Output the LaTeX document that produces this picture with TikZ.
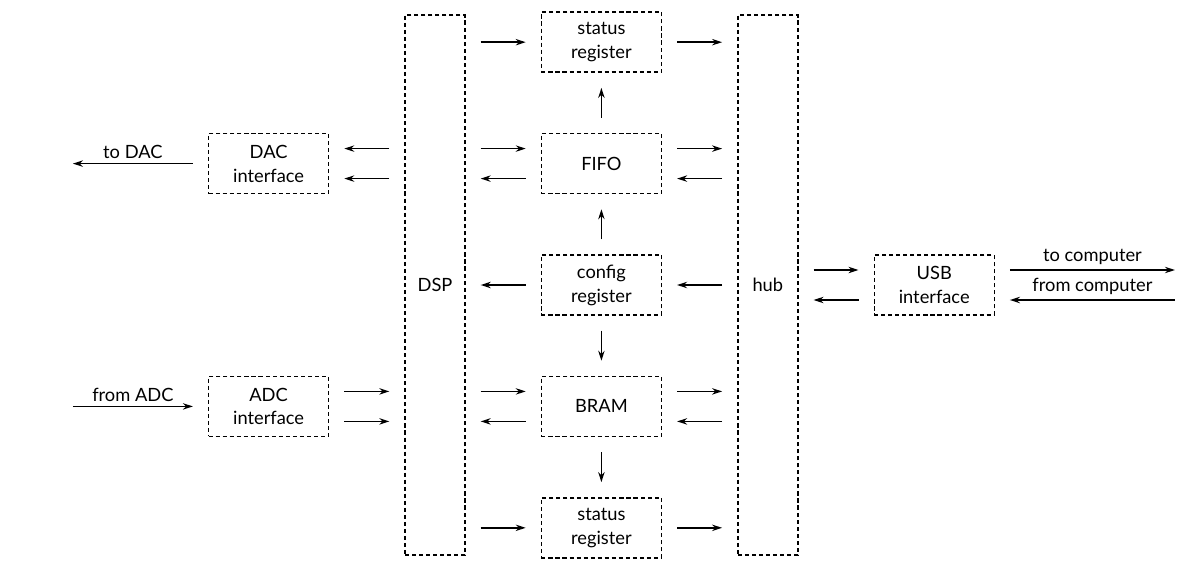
\documentclass[tikz,border=0pt]{standalone}
\usepackage{fontspec}
\setmainfont{Lato}
\usetikzlibrary{arrows.meta,positioning}

\begin{document}
\begin{tikzpicture}[
  node distance=15mm and 18.75mm,
  box/.style={draw, dash pattern=on 2.9pt off 2.1pt, line width=1pt, minimum width=30mm, minimum height=15mm, align=center, inner sep=0pt, font=\fontsize{13}{17}\selectfont},
  tall/.style={box, minimum width=15mm, minimum height=135mm},
  arr/.style={-{Stealth[length=2.5mm, width=1.6mm]}, line width=1pt},
  gap/.style={shorten <=3.75mm, shorten >=3.75mm},
  lbl/.style={above, font=\fontsize{13}{17}\selectfont, inner sep=3pt},
]
  \useasboundingbox (-108.75mm,-71.25mm) rectangle (191.25mm,71.25mm);

  % Blocks
  \node[tall] (dsp) {DSP};
  \node[box, right=of dsp] (cfg) {config\\register};
  \node[box, above=of cfg] (fifo) {FIFO};
  \node[box, above=of fifo] (stat1) {status\\register};
  \node[box, below=of cfg] (bram) {BRAM};
  \node[box, below=of bram] (stat2) {status\\register};
  \node[tall, right=of cfg] (hub) {hub};
  \node[box, right=of hub] (usb) {USB\\interface};
  \coordinate (dacrow) at (dsp.west |- fifo);
  \node[box, left=of dacrow] (dac) {DAC\\interface};
  \coordinate (adcrow) at (dsp.west |- bram);
  \node[box, left=of adcrow] (adc) {ADC\\interface};

  % DSP / hub <-> middle column
  \foreach \n in {fifo, bram} {
    \draw[arr, gap] ([yshift=3.75mm]dsp.east |- \n) -- ([yshift=3.75mm]\n.west);
    \draw[arr, gap] ([yshift=-3.75mm]\n.west) -- ([yshift=-3.75mm]dsp.east |- \n);
    \draw[arr, gap] ([yshift=3.75mm]\n.east) -- ([yshift=3.75mm]hub.west |- \n);
    \draw[arr, gap] ([yshift=-3.75mm]hub.west |- \n) -- ([yshift=-3.75mm]\n.east);
  }
  \foreach \n in {stat1, stat2} {
    \draw[arr, gap] (dsp.east |- \n) -- (\n);
    \draw[arr, gap] (\n) -- (hub.west |- \n);
  }
  \draw[arr, gap] (cfg) -- (dsp);
  \draw[arr, gap] (hub) -- (cfg);

  % Vertical links
  \draw[arr, gap] (fifo) -- (stat1);
  \draw[arr, gap] (cfg) -- (fifo);
  \draw[arr, gap] (cfg) -- (bram);
  \draw[arr, gap] (bram) -- (stat2);

  % Converters
  \draw[arr, gap] ([yshift=3.75mm]dsp.west |- dac) -- ([yshift=3.75mm]dac.east);
  \draw[arr, gap] ([yshift=-3.75mm]dsp.west |- dac) -- ([yshift=-3.75mm]dac.east);
  \draw[arr, gap] ([yshift=3.75mm]adc.east) -- ([yshift=3.75mm]dsp.west |- adc);
  \draw[arr, gap] ([yshift=-3.75mm]adc.east) -- ([yshift=-3.75mm]dsp.west |- adc);

  % USB
  \draw[arr, gap] ([yshift=3.75mm]hub.east) -- ([yshift=3.75mm]usb.west);
  \draw[arr, gap] ([yshift=-3.75mm]usb.west) -- ([yshift=-3.75mm]hub.east);

  % Outside world
  \coordinate (dacout) at ([xshift=-33.75mm]dac.west);
  \coordinate (adcin) at ([xshift=-33.75mm]adc.west);
  \coordinate (pcout) at ([xshift=45mm, yshift=3.75mm]usb.east);
  \coordinate (pcin) at ([xshift=45mm, yshift=-3.75mm]usb.east);
  \draw[arr] ([xshift=-3.75mm]dac.west) -- node[lbl] {to DAC} (dacout);
  \draw[arr] (adcin) -- node[lbl] {from ADC} ([xshift=-3.75mm]adc.west);
  \draw[arr] ([xshift=3.75mm, yshift=3.75mm]usb.east) -- node[lbl] {to computer} (pcout);
  \draw[arr] (pcin) -- node[lbl] {from computer} ([xshift=3.75mm, yshift=-3.75mm]usb.east);
\end{tikzpicture}
\end{document}
